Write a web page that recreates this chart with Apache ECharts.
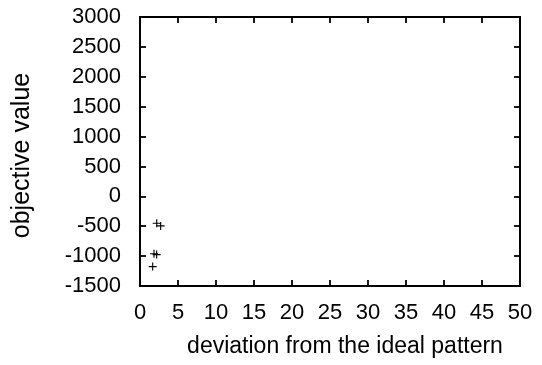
<!DOCTYPE html>
<html>
<head>
<meta charset="utf-8">
<script src="https://cdn.jsdelivr.net/npm/echarts@6/dist/echarts.min.js"></script>
<style>
html,body{margin:0;padding:0;background:#fff;}
#chart{width:542px;height:365px;}
</style>
</head>
<body>
<div id="chart"></div>
<script>
// Data
var deviation = [2.2, 2.72, 1.84, 2.19, 1.67];
var objective = [-450, -495, -960, -975, -1175];
var xTicks = [0, 5, 10, 15, 20, 25, 30, 35, 40, 45, 50];
var yTicks = [-1500, -1000, -500, 0, 500, 1000, 1500, 2000, 2500, 3000];

var points = deviation.map(function (d, i) { return [d, objective[i]]; });

var font = '"Liberation Sans", Arial, Helvetica, sans-serif';
var ink = '#000';
var plus = 'path://M0,4.3H10V5.7H0Z M4.3,0H5.7V10H4.3Z';
var plain = function (v) { return String(v); };

var chart = echarts.init(document.getElementById('chart'), null, {renderer: 'canvas'});
chart.setOption({
  animation: false,
  backgroundColor: '#fff',
  grid: {left: 140, right: 22, top: 17, bottom: 79, show: true, borderColor: ink, borderWidth: 1.8, backgroundColor: 'transparent'},
  xAxis: [{
    type: 'value', min: xTicks[0], max: xTicks[xTicks.length - 1], interval: 5,
    position: 'bottom',
    name: 'deviation from the ideal pattern', nameLocation: 'middle', nameGap: 49,
    nameTextStyle: {fontFamily: font, fontSize: 23, color: ink, padding: [0, 0, 0, 30]},
    axisLine: {show: true, onZero: false, lineStyle: {color: ink, width: 1.8}},
    axisTick: {show: true, inside: true, length: 6, lineStyle: {color: ink, width: 1.8}},
    axisLabel: {margin: 16, fontFamily: font, fontSize: 22, color: ink, formatter: plain},
    splitLine: {show: false}
  }, {
    type: 'value', min: xTicks[0], max: xTicks[xTicks.length - 1], interval: 5,
    position: 'top',
    axisLine: {show: true, onZero: false, lineStyle: {color: ink, width: 1.8}},
    axisTick: {show: true, inside: true, length: 6, lineStyle: {color: ink, width: 1.8}},
    axisLabel: {show: false},
    splitLine: {show: false}
  }],
  yAxis: [{
    type: 'value', min: yTicks[0], max: yTicks[yTicks.length - 1], interval: 500,
    position: 'left',
    name: 'objective value', nameLocation: 'middle', nameGap: 105, nameRotate: 90,
    nameTextStyle: {fontFamily: font, fontSize: 25, color: ink, padding: [0, 8, 0, 0]},
    axisLine: {show: true, onZero: false, lineStyle: {color: ink, width: 1.8}},
    axisTick: {show: true, inside: true, length: 6, lineStyle: {color: ink, width: 1.8}},
    axisLabel: {margin: 19, fontFamily: font, fontSize: 22, color: ink, formatter: plain},
    splitLine: {show: false}
  }, {
    type: 'value', min: yTicks[0], max: yTicks[yTicks.length - 1], interval: 500,
    position: 'right',
    axisLine: {show: true, onZero: false, lineStyle: {color: ink, width: 1.8}},
    axisTick: {show: true, inside: true, length: 6, lineStyle: {color: ink, width: 1.8}},
    axisLabel: {show: false},
    splitLine: {show: false}
  }],
  series: [{
    type: 'scatter',
    xAxisIndex: 0, yAxisIndex: 0,
    data: points,
    symbol: plus,
    symbolSize: 8,
    itemStyle: {color: ink, opacity: 1}
  }]
});
</script>
</body>
</html>
